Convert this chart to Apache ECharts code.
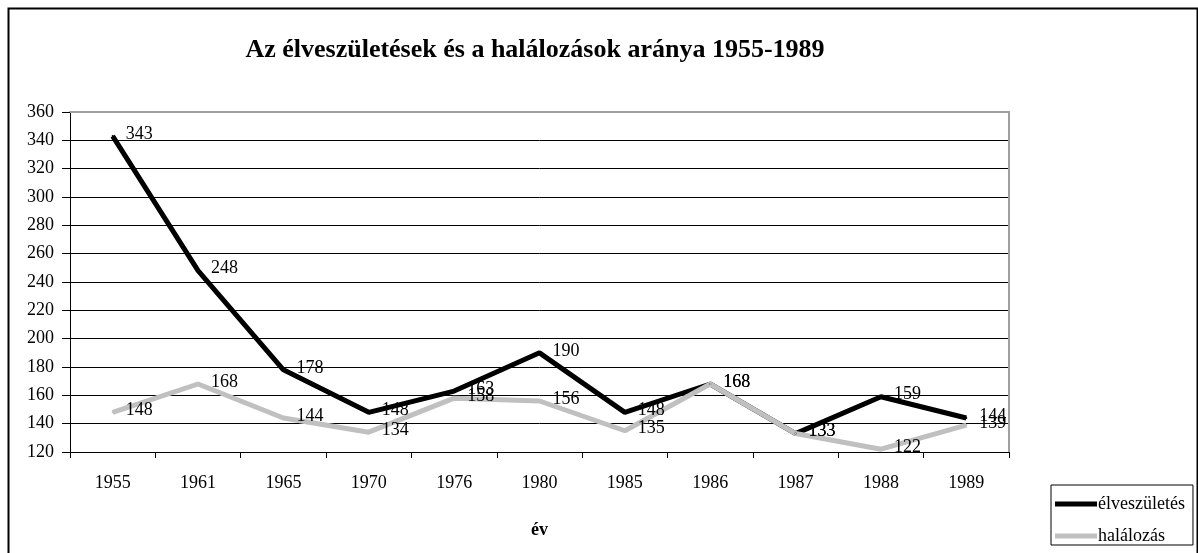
<!DOCTYPE html>
<html>
<head>
<meta charset="utf-8">
<script src="https://cdn.jsdelivr.net/npm/echarts@6/dist/echarts.min.js"></script>
<style>
html,body{margin:0;padding:0;background:#fff;}
#chart{width:1198px;height:553px;}
</style>
</head>
<body>
<div id="chart"></div>
<script>
var categories = ['1955','1961','1965','1970','1976','1980','1985','1986','1987','1988','1989'];
var births = [343, 248, 178, 148, 163, 190, 148, 168, 133, 159, 144];
var deaths = [148, 168, 144, 134, 158, 156, 135, 168, 133, 122, 139];
var seriesNames = ['élveszületés', 'halálozás'];

var FONT = '"Liberation Serif", "Times New Roman", serif';
var chart = echarts.init(document.getElementById('chart'), null, {renderer: 'canvas'});

function lbl() {
  return {show: true, position: 'right', distance: 12, offset: [0, -2], color: '#000', fontFamily: FONT, fontSize: 18};
}

chart.setOption({
  backgroundColor: '#fff',
  animation: false,
  textStyle: {fontFamily: FONT},
  title: {
    text: 'Az élveszületések és a halálozások aránya 1955-1989',
    left: 530, top: 32, textAlign: 'center',
    textStyle: {fontFamily: FONT, fontSize: 26, fontWeight: 'bold', color: '#000'}
  },
  graphic: [{
    type: 'rect', left: 6, top: 6, silent: true,
    shape: {width: 1189, height: 560},
    style: {fill: 'none', stroke: '#000', lineWidth: 2}
  }],
  legend: {
    orient: 'vertical',
    left: 1051, top: 485,
    height: 100,
    padding: [10, 8, 0, 4],
    itemGap: 14,
    itemWidth: 42, itemHeight: 5,
    icon: 'rect',
    borderColor: '#000', borderWidth: 1,
    textStyle: {fontFamily: FONT, fontSize: 18, lineHeight: 18, color: '#000', padding: [0, 0, 0, -4]},
    data: seriesNames
  },
  grid: {left: 70, right: 189, top: 112, bottom: 101},
  xAxis: [{
    type: 'category', data: categories, boundaryGap: true,
    axisLine: {lineStyle: {color: '#000', width: 1}},
    axisTick: {show: true, length: 6, lineStyle: {color: '#000'}},
    axisLabel: {color: '#000', fontFamily: FONT, fontSize: 18, margin: 22},
    name: 'év', nameLocation: 'middle', nameGap: 69,
    nameTextStyle: {fontFamily: FONT, fontSize: 18, fontWeight: 'bold', color: '#000'}
  }, {
    type: 'category', data: categories, position: 'top',
    axisLine: {show: true, lineStyle: {color: '#a0a0a0', width: 2}},
    axisTick: {show: false}, axisLabel: {show: false}
  }],
  yAxis: [{
    type: 'value', min: 120, max: 360, interval: 20,
    axisLine: {show: true, lineStyle: {color: '#000', width: 1}},
    axisTick: {show: true, length: 8, lineStyle: {color: '#000'}},
    axisLabel: {color: '#000', fontFamily: FONT, fontSize: 18, margin: 16},
    splitLine: {show: true, lineStyle: {color: '#000', width: 1}}
  }, {
    type: 'value', min: 120, max: 360, interval: 20, position: 'right',
    axisLine: {show: true, lineStyle: {color: '#a0a0a0', width: 2}},
    axisTick: {show: false}, axisLabel: {show: false}, splitLine: {show: false}
  }],
  series: [{
    name: seriesNames[0], type: 'line', data: births,
    symbol: 'circle', symbolSize: 2, showSymbol: true, color: '#000',
    itemStyle: {color: '#000'},
    lineStyle: {color: '#000', width: 5},
    label: lbl()
  }, {
    name: seriesNames[1], type: 'line', data: deaths,
    symbol: 'circle', symbolSize: 2, showSymbol: true, color: '#c0c0c0',
    itemStyle: {color: '#c0c0c0'},
    lineStyle: {color: '#c0c0c0', width: 5},
    label: lbl()
  }]
});
</script>
</body>
</html>
